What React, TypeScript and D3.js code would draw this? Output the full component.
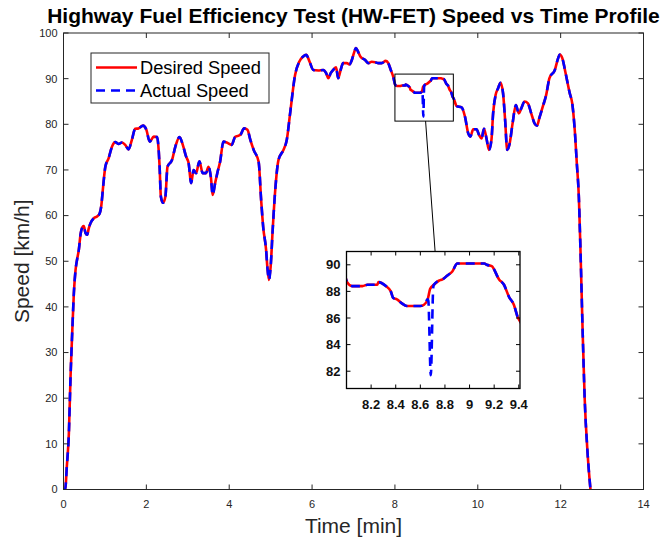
import React from "react";
import * as d3 from "d3";

// ---- data (time in minutes, speed in km/h) ----
const timeMin = [
  0, 0.04, 0.08, 0.13, 0.17, 0.21, 0.25, 0.29, 0.33, 0.37, 0.41, 0.46, 0.49, 0.53, 0.57, 0.61, 0.65, 0.73, 0.81, 0.875,
  0.91, 0.956, 1.01, 1.09, 1.17, 1.25, 1.33, 1.41, 1.49, 1.57, 1.65, 1.73, 1.81, 1.92, 2.0, 2.08, 2.18, 2.26, 2.3, 2.32,
  2.35, 2.4, 2.46, 2.51, 2.62, 2.7, 2.8, 2.88, 2.96, 3.02, 3.08, 3.14, 3.2, 3.28, 3.36, 3.44, 3.5, 3.56, 3.6, 3.66,
  3.72, 3.78, 3.86, 3.94, 4.06, 4.14, 4.27, 4.36, 4.44, 4.51, 4.59, 4.71, 4.77, 4.82, 4.89, 4.92, 4.96, 5.0, 5.05, 5.11,
  5.19, 5.31, 5.39, 5.47, 5.59, 5.69, 5.78, 5.86, 5.94, 6.03, 6.15, 6.27, 6.34, 6.39, 6.45, 6.51, 6.58, 6.63, 6.69, 6.75,
  6.84, 6.9, 6.96, 7.01, 7.06, 7.12, 7.17, 7.28, 7.36, 7.44, 7.52, 7.6, 7.68, 7.78, 7.84, 7.9, 7.96, 8.005, 8.045, 8.13,
  8.17, 8.25, 8.26, 8.32, 8.36, 8.38, 8.41, 8.45, 8.49, 8.6, 8.63, 8.66, 8.68, 8.71, 8.75, 8.78, 8.82, 8.86, 8.9, 9.12,
  9.14, 9.18, 9.24, 9.28, 9.32, 9.36, 9.39, 9.42, 9.49, 9.61, 9.69, 9.77, 9.82, 9.89, 9.97, 10.03, 10.09, 10.15, 10.21, 10.27,
  10.33, 10.37, 10.43, 10.49, 10.55, 10.61, 10.66, 10.71, 10.77, 10.84, 10.92, 10.99, 11.05, 11.13, 11.21, 11.29, 11.37, 11.43, 11.49, 11.57,
  11.65, 11.73, 11.86, 11.94, 11.98, 12.04, 12.12, 12.22, 12.28, 12.34, 12.39, 12.44, 12.48, 12.53, 12.58, 12.65, 12.72,
];
const desiredSpeed = [
  0, 0, 5, 12.4, 24.7, 34.3, 43, 48, 50.5, 52.5, 55.8, 57.5, 57.7, 56.2, 55.8, 57.2, 58.3, 59.4, 59.8, 60.5,
  62, 66.3, 70.7, 72.6, 75.1, 76.1, 75.7, 76.0, 75.5, 74.5, 76.6, 79, 79.1, 79.7, 78.8, 76.2, 77.3, 77.2, 74, 70.7,
  64.2, 62.8, 64.2, 70.7, 72.2, 75.1, 77.2, 75.5, 72.9, 71.5, 67.1, 70, 69.3, 71.9, 69.3, 69.3, 70.7, 68.2, 64.5, 67.1,
  69.6, 71.8, 76.2, 76.0, 75.5, 77.2, 77.7, 79.1, 78.8, 76.6, 74.4, 71.8, 63.5, 57.5, 52.5, 48.8, 45.9, 48.8, 57, 65.5,
  72.2, 74.4, 76.6, 82.4, 90.8, 93.7, 94.8, 95.2, 93.7, 91.9, 91.8, 91.9, 91.2, 90.1, 91.2, 91.9, 92.5, 90.1, 91.9, 93.4,
  93.4, 93.1, 94.1, 95.6, 96.7, 95.7, 94.8, 94.1, 93.4, 93.7, 93.6, 93.4, 93.4, 93.9, 93.4, 91.9, 90.4, 88.7, 88.4, 88.4,
  88.5, 88.5, 88.7, 88.4, 88.0, 87.5, 87.4, 87.1, 86.9, 86.9, 87.0, 87.4, 88.2, 88.5, 88.8, 88.9, 89.2, 89.5, 90.1, 90.1,
  90.0, 89.9, 88.9, 88.5, 87.6, 87.0, 86.1, 85.6, 84.0, 83.7, 81.7, 78.0, 77.3, 78.9, 78.9, 77.7, 76.9, 79.0, 76.9, 74.4,
  76.6, 82.4, 86.4, 87.9, 89.1, 86.8, 80.9, 74.4, 75.8, 80.2, 84.2, 82.4, 83.5, 85.0, 84.6, 82.4, 80.2, 79.7, 81.5, 83.9,
  86.4, 90.1, 91.9, 94.5, 95.3, 94.5, 91.2, 86.8, 84.6, 78.8, 71.5, 64, 52, 35, 20, 8, 0,
];
// actual speed follows the desired profile except for a short dip
const actualDipTime = [8.665, 8.685, 8.705];
const actualDipSpeed = [87.3, 81.7, 88.3];

const xTicks = [0, 2, 4, 6, 8, 10, 12, 14];
const yTicks = [0, 10, 20, 30, 40, 50, 60, 70, 80, 90, 100];
const insetXTicks = [8.2, 8.4, 8.6, 8.8, 9, 9.2, 9.4];
const insetYTicks = [82, 84, 86, 88, 90];
const zoomTime = [8.0, 9.41];
const zoomSpeed = [80.7, 91];
const legendLabels = ["Desired Speed", "Actual Speed"];

const FONT = "'Liberation Sans', Arial, Helvetica, sans-serif";
const AX = "#262626";
const RED = "#ff0000";
const BLUE = "#0000ff";
const LW = 2.6;
const DASH = "9 6";

export default function App() {
  const W = 669, H = 543;
  const x = d3.scaleLinear().domain([0, 14]).range([63.5, 643.5]);
  const y = d3.scaleLinear().domain([0, 100]).range([489.5, 33]);
  const ix = d3.scaleLinear().domain(zoomTime).range([346.5, 520]);
  const iy = d3.scaleLinear().domain(zoomSpeed).range([388.5, 251.5]);

  const desired: [number, number][] = timeMin.map((t, i) => [t, desiredSpeed[i]]);
  const actual: [number, number][] = desired
    .filter(([t]) => t < actualDipTime[0] || t > actualDipTime[actualDipTime.length - 1])
    .concat(actualDipTime.map((t, i) => [t, actualDipSpeed[i]] as [number, number]))
    .sort((a, b) => a[0] - b[0]);

  const mainLine = d3.line<[number, number]>().x(d => x(d[0])).y(d => y(d[1])).curve(d3.curveMonotoneX);
  const insetLine = d3.line<[number, number]>().x(d => ix(d[0])).y(d => iy(d[1])).curve(d3.curveMonotoneX);

  const [x0, x1] = x.range();
  const [y0, y1] = y.range();
  const [ix0, ix1] = ix.range();
  const [iy0, iy1] = iy.range();
  const tl = 5;
  const itl = 4;
  const fmt = d3.format("~g");

  // connector from zoom box to inset
  const connA = [x(8.74), y(zoomSpeed[0])];
  const connB = [ix(8.72), iy1];

  return (
    <svg width={W} height={H} style={{ position: "absolute", left: 0, top: 0, background: "#fff" }} fontFamily={FONT}>
      <defs>
        <clipPath id="mainClip"><rect x={x0} y={y1} width={x1 - x0} height={y0 - y1} /></clipPath>
        <clipPath id="insetClip"><rect x={ix0} y={iy1} width={ix1 - ix0} height={iy0 - iy1} /></clipPath>
      </defs>
      <rect x={0} y={0} width={W} height={H} fill="#fff" />
      {/* title */}
      <text x={(x0 + x1) / 2} y={23} textAnchor="middle" fontSize={21} fontWeight="bold" fill="#000">
        Highway Fuel Efficiency Test (HW-FET) Speed vs Time Profile
      </text>

      {/* main lines */}
      <g clipPath="url(#mainClip)">
        <path d={mainLine(desired) || ""} fill="none" stroke={RED} strokeWidth={LW} strokeLinejoin="round" />
        <path d={mainLine(actual) || ""} fill="none" stroke={BLUE} strokeWidth={LW} strokeDasharray={DASH} strokeLinejoin="round" />
      </g>

      {/* main axes box & ticks */}
      <rect x={x0} y={y1} width={x1 - x0} height={y0 - y1} fill="none" stroke={AX} strokeWidth={1} />
      {xTicks.map(t => (
        <g key={"xt" + t}>
          <line x1={x(t)} x2={x(t)} y1={y0} y2={y0 - tl} stroke={AX} />
          <line x1={x(t)} x2={x(t)} y1={y1} y2={y1 + tl} stroke={AX} />
          <text x={x(t)} y={y0 + 18} textAnchor="middle" fontSize={11} fill={AX}>{t}</text>
        </g>
      ))}
      {yTicks.map(v => (
        <g key={"yt" + v}>
          <line x1={x0} x2={x0 + tl} y1={y(v)} y2={y(v)} stroke={AX} />
          <line x1={x1} x2={x1 - tl} y1={y(v)} y2={y(v)} stroke={AX} />
          <text x={x0 - 6} y={y(v)} dy="0.35em" textAnchor="end" fontSize={11} fill={AX}>{v}</text>
        </g>
      ))}
      <text x={(x0 + x1) / 2} y={533} textAnchor="middle" fontSize={21} fill={AX}>Time [min]</text>
      <text transform={`translate(29,${(y0 + y1) / 2}) rotate(-90)`} textAnchor="middle" fontSize={21} fill={AX}>Speed [km/h]</text>

      {/* zoom rectangle and connector */}
      <rect x={x(zoomTime[0])} y={y(zoomSpeed[1])} width={x(zoomTime[1]) - x(zoomTime[0])} height={y(zoomSpeed[0]) - y(zoomSpeed[1])}
        fill="none" stroke="#000" strokeWidth={1} />
      <line x1={connA[0]} y1={connA[1]} x2={connB[0]} y2={connB[1]} stroke="#000" strokeWidth={1} />

      {/* inset */}
      <rect x={ix0} y={iy1} width={ix1 - ix0} height={iy0 - iy1} fill="#fff" />
      <g clipPath="url(#insetClip)">
        <path d={insetLine(desired) || ""} fill="none" stroke={RED} strokeWidth={LW} strokeLinejoin="round" />
        <path d={insetLine(actual) || ""} fill="none" stroke={BLUE} strokeWidth={LW} strokeDasharray={DASH} strokeLinejoin="round" />
      </g>
      <rect x={ix0} y={iy1} width={ix1 - ix0} height={iy0 - iy1} fill="none" stroke="#000" strokeWidth={1.3} />
      {insetXTicks.map(t => (
        <g key={"ixt" + t}>
          <line x1={ix(t)} x2={ix(t)} y1={iy0} y2={iy0 - itl} stroke="#000" />
          <line x1={ix(t)} x2={ix(t)} y1={iy1} y2={iy1 + itl} stroke="#000" />
          <text x={ix(t)} y={iy0 + 20} textAnchor="middle" fontSize={13} fontWeight="bold" fill="#111">{fmt(t)}</text>
        </g>
      ))}
      {insetYTicks.map(v => (
        <g key={"iyt" + v}>
          <line x1={ix0} x2={ix0 + itl} y1={iy(v)} y2={iy(v)} stroke="#000" />
          <line x1={ix1} x2={ix1 - itl} y1={iy(v)} y2={iy(v)} stroke="#000" />
          <text x={ix0 - 6} y={iy(v)} dy="0.35em" textAnchor="end" fontSize={13} fontWeight="bold" fill="#111">{v}</text>
        </g>
      ))}

      {/* legend */}
      <g>
        <rect x={91} y={53} width={178} height={50} fill="#fff" stroke={AX} strokeWidth={1} />
        <line x1={96} x2={137} y1={67.5} y2={67.5} stroke={RED} strokeWidth={LW} />
        <line x1={96} x2={137} y1={90.5} y2={90.5} stroke={BLUE} strokeWidth={LW} strokeDasharray={DASH} />
        <text x={140} y={67.5} dy="0.35em" fontSize={18.3} fill="#000">{legendLabels[0]}</text>
        <text x={140} y={90.5} dy="0.35em" fontSize={18.3} fill="#000">{legendLabels[1]}</text>
      </g>
    </svg>
  );
}
